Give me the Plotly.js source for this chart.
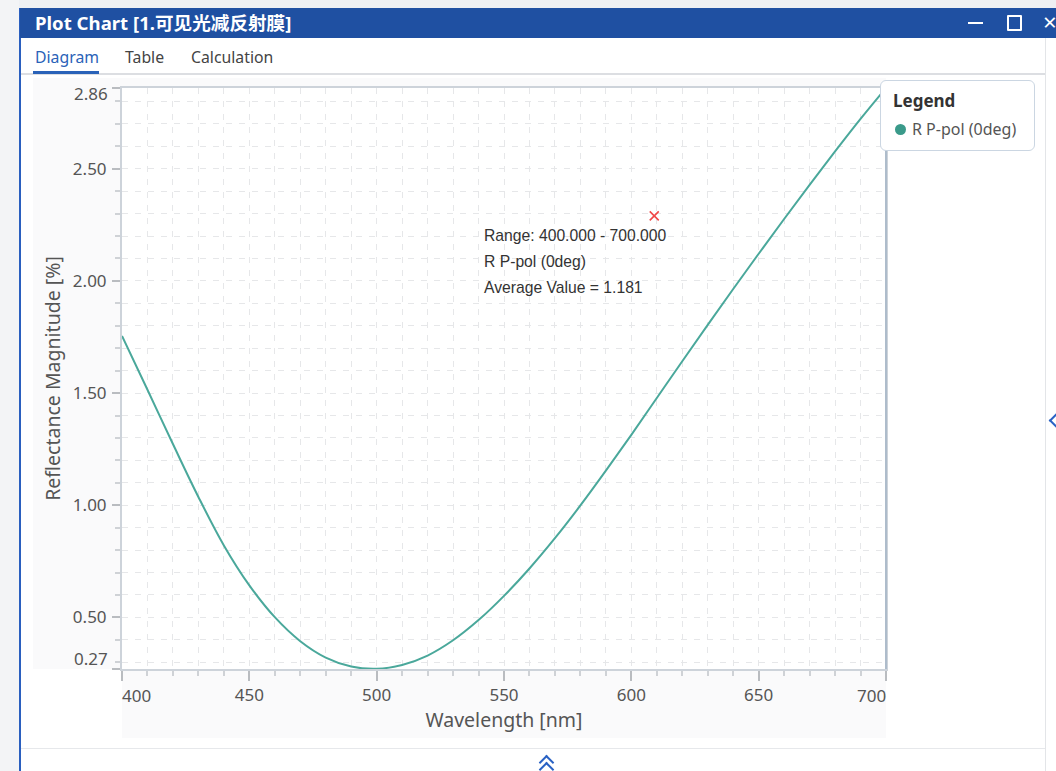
<!DOCTYPE html>
<html>
<head>
<meta charset="utf-8">
<script src="https://cdn.plot.ly/plotly-3.0.1.min.js"></script>
<style>
  html, body { margin:0; padding:0; width:1056px; height:771px; overflow:hidden; background:#ffffff; font-family:"Noto Sans","Noto Sans CJK SC",sans-serif; }
  .abs { position:absolute; }
  #chart { position:absolute; left:0; top:0; width:1056px; height:771px; }
  .chev { position:absolute; width:9px; height:9px; border-left:2.5px solid #2a62c4; border-top:2.5px solid #2a62c4; }
</style>
</head>
<body>
<!-- window chrome -->
<div class="abs" style="left:0;top:0;width:1056px;height:8px;background:#eef0f3;"></div>
<div class="abs" style="left:0;top:0;width:19px;height:771px;background:#f3f4f6;"></div>
<div class="abs" style="left:19px;top:8px;width:2px;height:763px;background:#2a5fbf;"></div>
<div class="abs" style="left:20px;top:8px;width:1036px;height:30px;background:#1f50a2;"></div>
<div class="abs" style="left:35px;top:10px;color:#fff;font-weight:bold;font-size:18.6px;line-height:26px;font-family:'Noto Sans','Noto Sans CJK SC',sans-serif;">Plot Chart [1.可见光减反射膜]</div>
<div class="abs" style="left:968px;top:22px;width:15px;height:2px;background:#fff;"></div>
<div class="abs" style="left:1007px;top:15px;width:11px;height:12px;border:2px solid #fff;border-radius:1px;"></div>
<div class="abs" style="left:1043px;top:8px;color:#fff;font-size:24px;line-height:28px;">×</div>
<div class="abs" style="left:35px;top:46px;color:#2a62b8;font-size:15.8px;line-height:22px;">Diagram</div>
<div class="abs" style="left:125px;top:46px;color:#444;font-size:15.8px;line-height:22px;">Table</div>
<div class="abs" style="left:191px;top:46px;color:#444;font-size:15.8px;line-height:22px;">Calculation</div>
<div class="abs" style="left:21px;top:73px;width:1024px;height:2px;background:#dcdee2;"></div>
<div class="abs" style="left:33px;top:71px;width:66px;height:3px;background:#2a62b8;"></div>
<div class="abs" style="left:1045px;top:38px;width:1px;height:733px;background:#e3e5e8;"></div>
<div class="abs" style="left:21px;top:748px;width:1024px;height:1px;background:#e6e8eb;"></div>
<div class="abs" style="left:33px;top:78px;width:853px;height:591px;background:#fafafb;"></div>
<div class="abs" style="left:122px;top:669px;width:764px;height:69px;background:#fafafb;"></div>
<div class="chev" style="left:1051px;top:415px;transform:rotate(-45deg);"></div>
<div class="chev" style="left:541px;top:757px;transform:rotate(45deg);"></div>
<div class="chev" style="left:541px;top:764px;transform:rotate(45deg);"></div>

<div id="chart"></div>

<!-- legend box -->
<div class="abs" style="left:880px;top:80px;width:153px;height:69px;background:#fff;border:1.5px solid #cbd6e2;border-radius:6px;z-index:5;">
  <div class="abs" style="left:12px;top:8px;font-weight:bold;font-size:17px;line-height:24px;color:#333;">Legend</div>
  <div class="abs" style="left:14px;top:43px;width:11px;height:11px;border-radius:50%;background:#3a9a8a;"></div>
  <div class="abs" style="left:31px;top:37px;font-size:16px;line-height:22px;color:#555;">R P-pol (0deg)</div>
</div>

<script>
// ---- data ----
const wavelength = [400,410,420,430,440,450,460,470,480,490,500,510,520,530,540,550,560,570,580,590,600,610,620,630,640,650,660,670,680,690,700];
const reflectance = [1.755,1.515,1.273,1.037,0.821,0.643,0.501,0.394,0.321,0.281,0.271,0.288,0.33,0.398,0.488,0.596,0.718,0.853,0.999,1.154,1.314,1.478,1.642,1.804,1.964,2.121,2.276,2.428,2.577,2.722,2.86];
const seriesName = "R P-pol (0deg)";
const markerX = [609];
const markerY = [2.29];
const yTickVals = [0.27,0.5,1.0,1.5,2.0,2.5,2.86];
const yTickText = ["","0.50","1.00","1.50","2.00","2.50",""];
const xTickVals = [400,450,500,550,600,650,700];
const xTickText = ["","450","500","550","600","650",""];
const edgeLabels = [
  {axis:"x", v:400, t:"400"}, {axis:"x", v:700, t:"700"},
  {axis:"y", v:2.86, t:"2.86"}, {axis:"y", v:0.27, t:"0.27"}
];
const infoLines = ["Range: 400.000 - 700.000","R P-pol (0deg)","Average Value = 1.181"];
const infoY = [2.201,2.086,1.970];
const infoX = 541.3;

const teal = "#4aa89b";
const gridCol = "#e6e7e9";
const tickFont = {family:"Noto Sans, sans-serif", size:17, color:"#555"};

const traces = [
  { x: wavelength, y: reflectance, type:"scatter", mode:"lines", name: seriesName,
    line:{color:teal, width:2, shape:"spline", smoothing:1}, showlegend:false },
  { x: markerX, y: markerY, type:"scatter", mode:"markers",
    marker:{symbol:"x-thin", size:9, line:{color:"#f04848", width:1.6}}, showlegend:false }
];

const annotations = infoLines.map((t,i)=>({
  x: infoX, y: infoY[i], xref:"x", yref:"y", text:t, showarrow:false,
  xanchor:"left", yanchor:"middle",
  font:{family:"Liberation Sans, Arial, sans-serif", size:15.7, color:"#333"}
}));
edgeLabels.forEach(e=>{
  if (e.axis==="x") {
    annotations.push({x:e.v, y:0, xref:"x", yref:"paper", text:e.t, showarrow:false,
      xanchor: e.v===400 ? "left" : "right", yanchor:"top", yshift:-13, xshift: e.v===400 ? -2 : 2, font:tickFont});
  } else {
    annotations.push({x:0, y:e.v, xref:"paper", yref:"y", text:e.t, showarrow:false,
      xanchor:"right", yanchor: e.v===2.86 ? "top" : "bottom", xshift:-12, yshift: e.v===2.86 ? 8 : -3, font:tickFont});
  }
});

const layout = {
  width:1056, height:771,
  margin:{l:122, r:169.5, t:88, b:102, pad:0},
  paper_bgcolor:"rgba(0,0,0,0)",
  plot_bgcolor:"#ffffff",
  font:{family:"Noto Sans, sans-serif", color:"#555"},
  showlegend:false,
  xaxis:{
    range:[400,700], tickmode:"array", tickvals:xTickVals, ticktext:xTickText,
    showgrid:true, gridcolor:gridCol, griddash:"6px,7px", gridwidth:1,
    showline:true, linecolor:"#cdd3da", linewidth:2, mirror:true,
    ticks:"outside", ticklen:10, tickwidth:2, tickcolor:"#b9bcc0",
    tickfont:tickFont, zeroline:false,
    minor:{tickmode:"linear", tick0:400, dtick:10, ticks:"outside", ticklen:5, tickwidth:2, tickcolor:"#cfd2d6",
           showgrid:true, gridcolor:gridCol, griddash:"6px,7px", gridwidth:1},
    title:{text:"Wavelength [nm]", font:{size:19.5, color:"#555"}, standoff:3}
  },
  yaxis:{
    range:[0.27,2.86], tickmode:"array", tickvals:yTickVals, ticktext:yTickText,
    showgrid:true, gridcolor:gridCol, griddash:"6px,7px", gridwidth:1,
    showline:true, linecolor:"#cdd3da", linewidth:2, mirror:true,
    ticks:"outside", ticklen:8, tickwidth:2, tickcolor:"#b9bcc0",
    tickfont:tickFont, zeroline:false, ticklabelstandoff:2,
    minor:{tickmode:"linear", tick0:0, dtick:0.1, ticks:"outside", ticklen:5, tickwidth:2, tickcolor:"#cfd2d6",
           showgrid:true, gridcolor:gridCol, griddash:"6px,7px", gridwidth:1},
    title:{text:"Reflectance Magnitude [%]", font:{size:19.5, color:"#555"}, standoff:7}
  },
  annotations: annotations,
  shapes:[{type:"line", xref:"paper", yref:"paper", x0:1, x1:1, y0:0, y1:1, line:{color:"#aebccb", width:2}}]
};

Plotly.newPlot("chart", traces, layout, {displayModeBar:false, staticPlot:true});
</script>
</body>
</html>
